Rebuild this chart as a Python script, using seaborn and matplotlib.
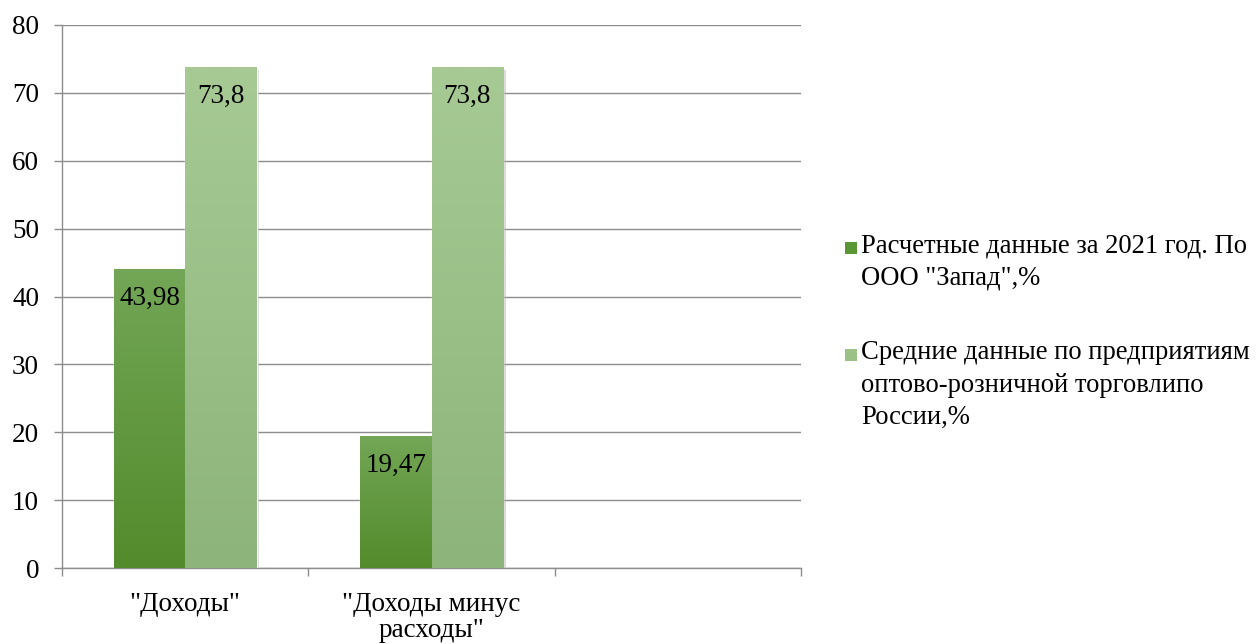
import numpy as np
import pandas as pd
import matplotlib
matplotlib.use("Agg")
import matplotlib.pyplot as plt
import matplotlib.patheffects as pe
from matplotlib.patches import Rectangle
import seaborn as sns

# Categories (third slot is left empty on the axis)
categories = ['"Доходы"', '"Доходы минус\nрасходы"', ""]
series = ["Расчетные данные за 2021 год. По ООО \"Запад\",%",
          "Средние данные по предприятиям оптово-розничной торговлипо России,%"]
legend_labels = ["Расчетные данные за 2021 год. По\nООО \"Запад\",%",
                 "Средние данные по предприятиям\nоптово-розничной торговлипо\nРоссии,%"]
zapad_values = [43.98, 19.47]
russia_values = [73.8, 73.8]

df = pd.DataFrame({
    "category": categories[:2] * 2,
    "series": [series[0]] * 2 + [series[1]] * 2,
    "value": zapad_values + russia_values,
})

sns.set_theme(style="white")
plt.rcParams["font.family"] = ["Liberation Serif", "DejaVu Serif"]
FS = 19.5
LEG_FS = 19.2

# gradient end colours (top, bottom) for each series
grad = {
    series[0]: ("#73a656", "#538b2c"),
    series[1]: ("#a7ca94", "#8db47a"),
}
base = {series[0]: "#5e9a3a", series[1]: "#9bc086"}
legend_colors = ["#5a9636", "#9cc187"]

fig = plt.figure(figsize=(12.56, 6.44), dpi=100)
ax = fig.add_axes([62 / 1256, 1 - 568 / 644, (801 - 62) / 1256, (568 - 25) / 644])

sns.barplot(data=df, x="category", y="value", hue="series", order=categories,
            hue_order=series, palette=base, width=0.58, errorbar=None,
            legend=False, ax=ax, saturation=1, zorder=3)

ax.set_ylim(0, 80)
ax.set_xlim(-0.5, 2.5)
ax.set_yticks(np.arange(0, 81, 10))
ax.grid(axis="y", color="#8c8c8c", linewidth=1.0, zorder=0)
ax.grid(axis="x", visible=False)
ax.set_axisbelow(True)
ax.set_xlabel("")
ax.set_ylabel("")

for s in ["top", "right"]:
    ax.spines[s].set_visible(False)
for s in ["left", "bottom"]:
    ax.spines[s].set_color("#8c8c8c")
    ax.spines[s].set_linewidth(1.0)

ax.tick_params(axis="y", which="major", left=True, length=6, width=1.0,
               color="#8c8c8c", labelsize=FS, pad=10.5, labelcolor="black")
ax.set_xticks([0, 1])
ax.set_xticklabels(categories[:2], linespacing=1.05)
ax.set_xticks([-0.5, 0.5, 1.5, 2.5], minor=True)
ax.tick_params(axis="x", which="major", bottom=False, labelsize=FS, pad=11,
               labelcolor="black")
ax.tick_params(axis="x", which="minor", bottom=True, length=6, width=1.0,
               color="#8c8c8c")

# Gradient fill, soft shadow and value labels for each bar
colors_in_order = [series[0]] * 2 + [series[1]] * 2
values_in_order = zapad_values + russia_values
bars = [p for p in ax.patches if p.get_height() > 0]
for patch, sname, val in zip(bars, colors_in_order, values_in_order):
    patch.set_path_effects([pe.SimplePatchShadow(offset=(2, -2),
                                                 shadow_rgbFace="#b0b0b0",
                                                 alpha=0.5), pe.Normal()])
    x0, w, h = patch.get_x(), patch.get_width(), patch.get_height()
    top_c, bot_c = (np.array(matplotlib.colors.to_rgb(c)) for c in grad[sname])
    t = np.linspace(0, 1, 256)[:, None]
    img = (top_c * (1 - t) + bot_c * t)[:, None, :]
    im = ax.imshow(img, extent=[x0, x0 + w, 0, h], aspect="auto",
                   origin="upper", zorder=3.5, interpolation="bilinear")
    im.set_clip_path(patch)
    ax.annotate(f"{val:g}".replace(".", ","), xy=(x0 + w / 2, h),
                xytext=(0, -12), textcoords="offset points",
                ha="center", va="top", fontsize=FS, color="black", zorder=5)

ax.set_xlim(-0.5, 2.5)
ax.set_ylim(0, 80)

# Legend: square marker aligned with the first line of each wrapped label
W, H = 1256, 644
legend_rows = [248, 355]
for label, color, yc in zip(legend_labels, legend_colors, legend_rows):
    fig.patches.append(Rectangle((845 / W, 1 - (yc + 6) / H), 12 / W, 12 / H,
                                 transform=fig.transFigure, facecolor=color,
                                 edgecolor="none"))
    fig.text(861 / W, 1 - (yc - 15) / H, label, ha="left", va="top",
             fontsize=LEG_FS, linespacing=1.4, color="black")

fig.savefig("out.png", dpi=100, facecolor="white")
